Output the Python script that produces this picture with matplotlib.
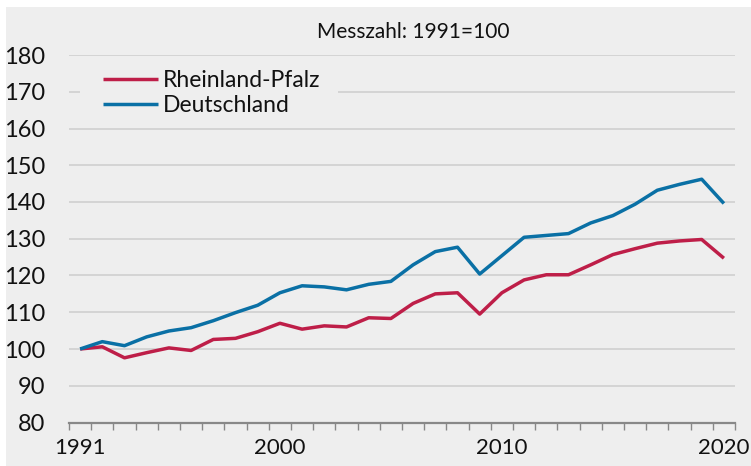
import matplotlib
matplotlib.use("Agg")
import matplotlib.pyplot as plt
from matplotlib.patches import Rectangle
import numpy as np

years = list(range(1991, 2021))
rheinland_pfalz = [100.0, 100.6, 97.6, 99.0, 100.3, 99.6, 102.6, 102.9, 104.7, 107.0,
                   105.4, 106.3, 106.0, 108.5, 108.3, 112.4, 115.0, 115.3, 109.5, 115.3,
                   118.8, 120.2, 120.2, 122.9, 125.7, 127.3, 128.8, 129.4, 129.8, 124.7]
deutschland = [100.0, 102.0, 100.9, 103.3, 104.9, 105.8, 107.7, 109.9, 111.9, 115.3,
               117.2, 116.9, 116.1, 117.6, 118.4, 122.9, 126.5, 127.7, 120.4, 125.4,
               130.4, 130.9, 131.4, 134.3, 136.3, 139.4, 143.2, 144.8, 146.2, 139.6]
series_names = ["Rheinland-Pfalz", "Deutschland"]
x_tick_labels = [1991, 2000, 2010, 2020]
y_ticks = list(range(80, 181, 10))
title = "Messzahl: 1991=100"

BG = "#eeeeee"
RED = "#be1e48"
BLUE = "#0a70a5"
FONT = ["Lato", "DejaVu Sans"]
plt.rcParams['font.family'] = FONT

W, H = 751, 466
fig = plt.figure(figsize=(W / 100, H / 100), dpi=100, facecolor="white")
fig.patches.append(Rectangle((6 / W, 0), 1 - 6 / W, 1 - 7 / H, transform=fig.transFigure,
                             facecolor=BG, edgecolor="none", zorder=-10))

ax = fig.add_axes([69 / W, (H - 422.5) / H, 666 / W, 367.5 / H])
ax.set_facecolor(BG)
ax.patch.set_alpha(0)

ax.plot(years, rheinland_pfalz, color=RED, lw=2.5, label=series_names[0], solid_capstyle="butt", zorder=3)
ax.plot(years, deutschland, color=BLUE, lw=2.5, label=series_names[1], solid_capstyle="butt", zorder=3)

ax.set_xlim(years[0] - 0.5, years[-1] + 0.5)
ax.set_ylim(80, 180)

ax.set_yticks(y_ticks)
ax.set_yticklabels([str(v) for v in y_ticks])
ax.tick_params(axis="y", length=0, pad=17.3, labelsize=17, labelcolor="#111111")
ax.set_xticks(x_tick_labels)
ax.set_xticklabels([str(v) for v in x_tick_labels])
ax.tick_params(axis="x", which="major", length=0, pad=11, labelsize=16, labelcolor="#111111")
ax.set_xticks(np.arange(years[0] - 0.5, years[-1] + 1.0, 1.0), minor=True)
ax.tick_params(axis="x", which="minor", length=5, width=1, color="#888888", direction="out")

for s in ["top", "right", "left"]:
    ax.spines[s].set_visible(False)
ax.spines["bottom"].set_color("#888888")
ax.spines["bottom"].set_linewidth(1.6)
ax.spines["bottom"].set_zorder(4)

for v in y_ticks[1:]:
    ax.axhline(v, color="#d2d2d2", lw=1.3, zorder=1)

# legend background box (covers gridline behind the legend)
bgbox = Rectangle((80 / W, (H - 120) / H), (338 - 80) / W, (120 - 62) / H,
                  transform=fig.transFigure, facecolor=BG, edgecolor="none", zorder=2)
ax.add_patch(bgbox)

leg = ax.legend(loc="upper left", bbox_to_anchor=(96 / W, (H - 63) / H), bbox_transform=fig.transFigure,
                fontsize=16.5, frameon=False,
                handlelength=2.4, handletextpad=0.22, labelspacing=0.18, borderpad=0.3,
                borderaxespad=0)
leg.set_zorder(5)
for t in leg.get_texts():
    t.set_color("#111111")
for l in leg.get_lines():
    l.set_linewidth(2.5)

fig.text(413 / W, (H - 32) / H, title, ha="center", va="center", fontsize=15, color="#111111")

fig.savefig("out.png", dpi=100, facecolor="white")
